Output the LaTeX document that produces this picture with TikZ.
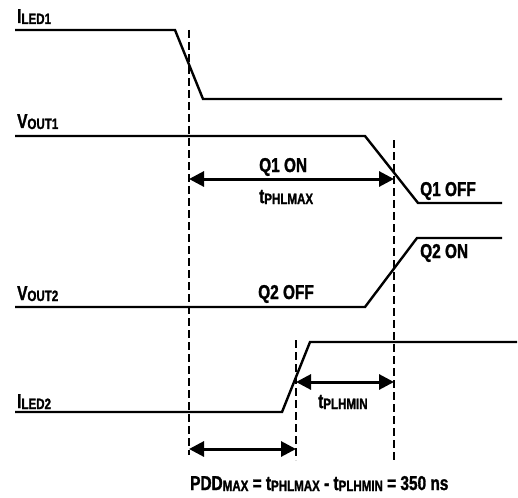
\documentclass[tikz,border=0pt]{standalone}
\usepackage{fontspec}
\setmainfont{Liberation Sans}[FakeStretch=0.77, BoldFeatures={FakeBold=1.4}]
\usepackage{tikz}
\usetikzlibrary{calc,positioning,arrows.meta}
\definecolor{waveblack}{HTML}{000000}
\newcommand{\lowcaps}[1]{\raisebox{-1pt}{\fontsize{15}{15}\selectfont #1}}

\begin{document}
\begin{tikzpicture}[x=1pt, y=-1pt,
    wave/.style={draw=waveblack, line width=2.4pt, line join=miter},
    guide/.style={draw=waveblack, line width=2.8pt, dash pattern=on 8pt off 4pt},
    span/.style={draw=waveblack, line width=3pt,
      {Triangle[length=15pt,width=15pt]}-{Triangle[length=15pt,width=15pt]}},
    lbl/.style={font=\bfseries\fontsize{20}{22}\selectfont, inner sep=0pt, anchor=base west}]
  \useasboundingbox (0,0) rectangle (518,497);
  % waveforms
  \draw[wave] (15,30) -- (175,30) -- (203,99) -- (502,99);
  \draw[wave] (15,136) -- (365,136) -- (418,203) -- (502,203);
  \draw[wave] (15,307) -- (365,307) -- (417,238) -- (502,238);
  \draw[wave] (15,412) -- (282,412) -- (310,342) -- (517,342);
  % guides
  \coordinate (gA1) at (189,30);  \coordinate (gA2) at (189,455);
  \coordinate (gB1) at (394,140); \coordinate (gB2) at (394,463);
  \coordinate (gC1) at (296,340); \coordinate (gC2) at (296,460);
  \draw[guide] (gA1) -- (gA2);
  \draw[guide] (gB1) -- (gB2);
  \draw[guide] (gC1) -- (gC2);
  % spans
  \coordinate (phlL) at (189,179); \coordinate (phlR) at (394,179);
  \coordinate (plhL) at (296,382); \coordinate (plhR) at (394,382);
  \coordinate (pddL) at (189,449); \coordinate (pddR) at (296,449);
  \draw[span] (phlL) -- (phlR);
  \draw[span] (plhL) -- (plhR);
  \draw[span] (pddL) -- (pddR);
  % labels
  \node[lbl] (iledA) at (17,23) {I\lowcaps{LED1}};
  \node[lbl] (voutA) at (17,128) {V\lowcaps{OUT1}};
  \node[lbl] (voutB) at (17,300) {V\lowcaps{OUT2}};
  \node[lbl] (iledB) at (17,408) {I\lowcaps{LED2}};
  \node[lbl] (qAon) at (259,172) {Q1 ON};
  \node[lbl] (tphl) at (259,203) {t\lowcaps{PHLMAX}};
  \node[lbl] (qAoff) at (420,196) {Q1 OFF};
  \node[lbl] (qBon) at (420,258) {Q2 ON};
  \node[lbl] (qBoff) at (258,299) {Q2 OFF};
  \node[lbl] (tplh) at (318,408) {t\lowcaps{PLHMIN}};
  \node[lbl] (pdd) at (190,490) {PDD\lowcaps{MAX} = t\lowcaps{PHLMAX} - t\lowcaps{PLHMIN} = 350 ns};
\end{tikzpicture}
\end{document}
